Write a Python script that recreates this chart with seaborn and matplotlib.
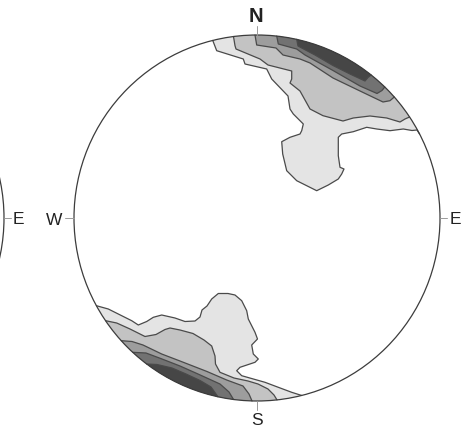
import numpy as np
import matplotlib
matplotlib.use("Agg")
import matplotlib.pyplot as plt
from matplotlib.patches import Circle
import seaborn as sns

# Net coordinates: centre of the primitive at (0, 0), primitive radius 183.
NET_RADIUS = 183.0

# Contour fill colours, lowest density level first.
level_colors = ["#e4e4e4", "#c3c3c3", "#9d9d9d", "#727272", "#464646"]

# Contour boundaries of the northern cluster (first and last points lie on the primitive).
north_1 = [(-44, 176.5), (-40.3, 167.3), (-13.7, 159), (-12, 154), (9.7, 149), (14.7, 139),
           (31, 122), (33, 109), (36.3, 104), (46.3, 94), (44.7, 87.3), (43, 84), (33, 80.7),
           (24.7, 76.3), (25.7, 64), (29.7, 47.3), (39.7, 37.3), (59.7, 27.3), (71.3, 33),
           (81.3, 39), (84.7, 44), (87, 49), (83, 50.7), (81.3, 62.3), (81.3, 80.7), (84.7, 84),
           (96.3, 86.3), (109.7, 90.7), (119.7, 89), (133, 87.3), (146.3, 89), (155, 87.5),
           (160, 88), (162.6, 84)]
north_2 = [(-23.5, 181.4), (-22, 172.3), (-21, 169), (3, 159), (11, 153), (34.7, 147),
           (34.7, 139), (33, 135), (43, 127), (53, 109), (66, 102.3), (86, 97), (96.3, 100),
           (113, 102), (129.7, 100), (143, 96), (148, 99), (152.6, 101)]
north_3 = [(-2, 182.2), (-0.3, 173), (19, 170), (26, 163), (43, 159), (53, 155), (76, 140),
           (103, 127), (126, 116), (133, 117.3), (137.3, 121)]
north_4 = [(19.7, 181.8), (21.3, 174), (39.7, 169), (48, 163), (76, 147.5), (103, 132),
           (120, 124.5), (125, 127.5), (127.8, 131)]
north_5 = [(39.7, 178.6), (41, 172), (58, 163), (76, 152.5), (93, 144), (108, 137),
           (111, 140.5), (114.2, 143)]

# Contour boundaries of the southern cluster.
south_1 = [(-160.6, -87.7), (-148.7, -91), (-138.7, -96), (-125.3, -102.7), (-118.7, -107),
           (-110.3, -103.5), (-103.7, -99.3), (-95.3, -97), (-82, -100), (-72, -103.5),
           (-62, -103), (-57, -99), (-55, -92), (-50, -88), (-45.3, -81), (-38.7, -75.5),
           (-29, -75.5), (-22, -77), (-15.3, -82.7), (-10.3, -92.7), (-8.7, -101), (-2, -114.3),
           (0.5, -121), (-5.3, -127), (-3.7, -136), (1.3, -141), (-2, -144.3), (-17, -149.3),
           (-20.3, -152.7), (-15.3, -157.7), (8, -164.3), (21.3, -169.3), (34.7, -174.3),
           (44.7, -177.6)]
south_2 = [(-151.5, -102.7), (-140.3, -105), (-127, -111), (-112, -118.5), (-101, -116.5),
           (-92, -111.5), (-87, -110), (-77, -112), (-64, -115.5), (-53, -122), (-45.3, -128),
           (-42, -138), (-41.5, -146), (-37, -154.3), (-23, -160), (-9, -163), (1, -166),
           (11, -171), (17, -177), (20, -181.9)]
south_3 = [(-135.8, -122.7), (-125, -123.5), (-114, -127), (-95.3, -136), (-77, -143),
           (-50, -153.5), (-30.3, -162), (-14, -168), (-8, -176), (-5, -183)]
south_4 = [(-124.3, -134.3), (-111, -135), (-95, -141), (-77, -148), (-59, -156),
           (-37, -166), (-28, -174), (-23.5, -181.6)]
south_5 = [(-110.3, -146), (-100, -146.5), (-85, -150), (-71, -156), (-57, -162.5),
           (-46, -169), (-39, -178.6)]

north_levels = [north_1, north_2, north_3, north_4, north_5]
south_levels = [south_1, south_2, south_3, south_4, south_5]

# Compass labels: (text, x, y, bold)
compass = [("N", -0.7, 203, True), ("S", 0, -201.5, False),
           ("W", -203, -2, False), ("E", 198.5, -1, False)]
neighbour_centre_x = -436.0

LINE_COLOR = "#4a4a4a"
TEXT_COLOR = "#222222"

sns.set_style("white")
plt.rcParams["font.family"] = ["Liberation Sans", "DejaVu Sans"]


def region(points):
    """Boundary line snapped to the primitive, plus the polygon closed along the primitive."""
    pts = np.asarray(points, dtype=float)
    a0 = np.arctan2(pts[0, 1], pts[0, 0])
    a1 = np.arctan2(pts[-1, 1], pts[-1, 0])
    line = pts.copy()
    line[0] = NET_RADIUS * np.array([np.cos(a0), np.sin(a0)])
    line[-1] = NET_RADIUS * np.array([np.cos(a1), np.sin(a1)])
    d = (a0 - a1 + np.pi) % (2 * np.pi) - np.pi
    arc = np.linspace(a1, a1 + d, 80)
    ring = np.column_stack([NET_RADIUS * np.cos(arc), NET_RADIUS * np.sin(arc)])
    return line, np.vstack([line, ring])


fig = plt.figure(figsize=(4.67, 4.35), dpi=100)
ax = fig.add_axes([0, 0, 1, 1])
ax.set_xlim(-257, 210)
ax.set_ylim(-216, 219)
ax.axis("off")

for levels in (north_levels, south_levels):
    lines = []
    for color, pts in zip(level_colors, levels):
        line, poly = region(pts)
        ax.fill(poly[:, 0], poly[:, 1], color=color, lw=0, zorder=1)
        lines.append(line)
    for line in lines:
        sns.lineplot(x=line[:, 0], y=line[:, 1], sort=False, estimator=None,
                     color=LINE_COLOR, lw=0.9, ax=ax, zorder=2)

# Primitive circles (main net and the edge of the neighbouring net)
for cx in (0.0, neighbour_centre_x):
    ax.add_patch(Circle((cx, 0), NET_RADIUS, fill=False, ec="#3c3c3c", lw=0.9, zorder=3))

# Cardinal ticks
tick_len = 9
tick_kw = dict(color="#9a9a9a", lw=0.7, zorder=3)
ax.plot([0, 0], [NET_RADIUS, NET_RADIUS + tick_len], **tick_kw)
ax.plot([0, 0], [-NET_RADIUS, -NET_RADIUS - tick_len], **tick_kw)
ax.plot([-NET_RADIUS, -NET_RADIUS - tick_len], [0, 0], **tick_kw)
ax.plot([NET_RADIUS, NET_RADIUS + tick_len - 2], [0, 0], **tick_kw)
nb_edge = neighbour_centre_x + NET_RADIUS
ax.plot([nb_edge, nb_edge + 7], [0, 0], **tick_kw)

for text, x, y, bold in compass:
    ax.text(x, y, text, ha="center", va="center", color=TEXT_COLOR,
            fontsize=14.5 if bold else 12.5, fontweight="bold" if bold else "normal")
ax.text(nb_edge + 14, -1, "E", ha="center", va="center", color=TEXT_COLOR, fontsize=12.5)

fig.savefig("out.png", dpi=100)
